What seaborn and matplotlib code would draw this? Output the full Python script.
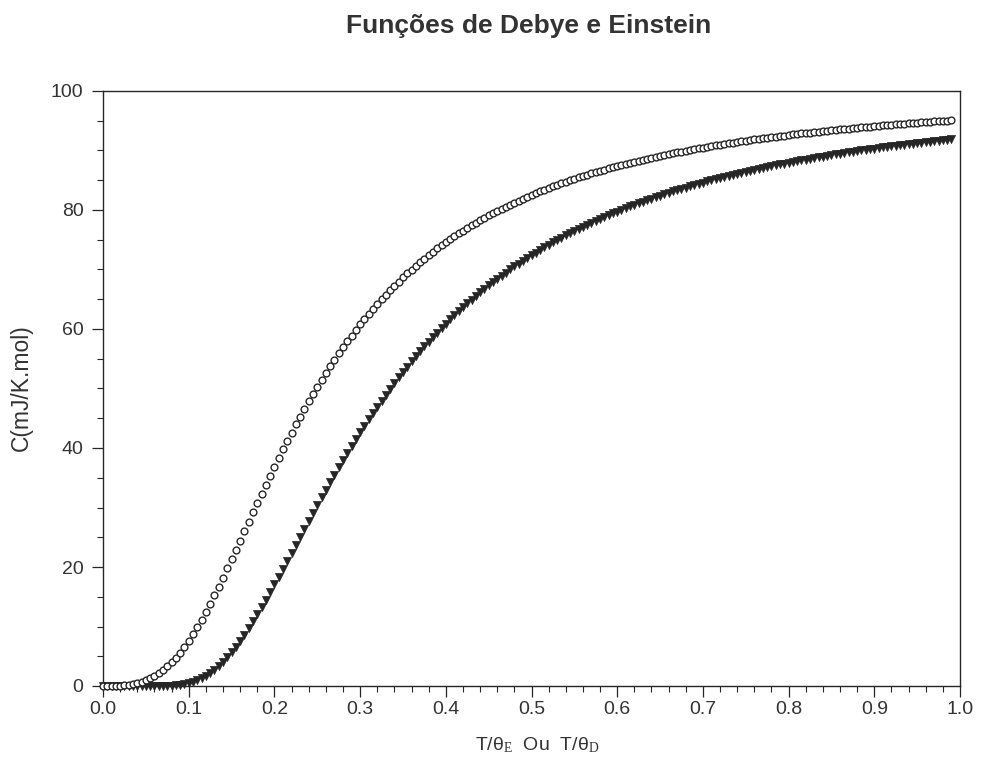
import matplotlib
matplotlib.use("Agg")
import matplotlib.pyplot as plt
from matplotlib.ticker import MultipleLocator
import seaborn as sns
import pandas as pd

# Reduced temperature T/theta (sample grid)
t_grid = [
    0.000, 0.005, 0.010, 0.015, 0.020, 0.025, 0.030, 0.035, 0.040, 0.045,
    0.050, 0.055, 0.060, 0.065, 0.070, 0.075, 0.080, 0.085, 0.090, 0.095,
    0.100, 0.105, 0.110, 0.115, 0.120, 0.125, 0.130, 0.135, 0.140, 0.145,
    0.150, 0.155, 0.160, 0.165, 0.170, 0.175, 0.180, 0.185, 0.190, 0.195,
    0.200, 0.205, 0.210, 0.215, 0.220, 0.225, 0.230, 0.235, 0.240, 0.245,
    0.250, 0.255, 0.260, 0.265, 0.270, 0.275, 0.280, 0.285, 0.290, 0.295,
    0.300, 0.305, 0.310, 0.315, 0.320, 0.325, 0.330, 0.335, 0.340, 0.345,
    0.350, 0.355, 0.360, 0.365, 0.370, 0.375, 0.380, 0.385, 0.390, 0.395,
    0.400, 0.405, 0.410, 0.415, 0.420, 0.425, 0.430, 0.435, 0.440, 0.445,
    0.450, 0.455, 0.460, 0.465, 0.470, 0.475, 0.480, 0.485, 0.490, 0.495,
    0.500, 0.505, 0.510, 0.515, 0.520, 0.525, 0.530, 0.535, 0.540, 0.545,
    0.550, 0.555, 0.560, 0.565, 0.570, 0.575, 0.580, 0.585, 0.590, 0.595,
    0.600, 0.605, 0.610, 0.615, 0.620, 0.625, 0.630, 0.635, 0.640, 0.645,
    0.650, 0.655, 0.660, 0.665, 0.670, 0.675, 0.680, 0.685, 0.690, 0.695,
    0.700, 0.705, 0.710, 0.715, 0.720, 0.725, 0.730, 0.735, 0.740, 0.745,
    0.750, 0.755, 0.760, 0.765, 0.770, 0.775, 0.780, 0.785, 0.790, 0.795,
    0.800, 0.805, 0.810, 0.815, 0.820, 0.825, 0.830, 0.835, 0.840, 0.845,
    0.850, 0.855, 0.860, 0.865, 0.870, 0.875, 0.880, 0.885, 0.890, 0.895,
    0.900, 0.905, 0.910, 0.915, 0.920, 0.925, 0.930, 0.935, 0.940, 0.945,
    0.950, 0.955, 0.960, 0.965, 0.970, 0.975, 0.980, 0.985, 0.990,
]

# Open circles (Debye curve)
debye = [
    0.00, 0.00, 0.01, 0.03, 0.06, 0.12, 0.21, 0.33, 0.50, 0.71,
    0.97, 1.30, 1.68, 2.14, 2.67, 3.28, 3.97, 4.75, 5.61, 6.55,
    7.58, 8.69, 9.87, 11.13, 12.44, 13.82, 15.24, 16.71, 18.21, 19.75,
    21.30, 22.87, 24.45, 26.03, 27.62, 29.19, 30.76, 32.31, 33.85, 35.37,
    36.87, 38.34, 39.78, 41.20, 42.59, 43.95, 45.28, 46.58, 47.86, 49.10,
    50.31, 51.48, 52.63, 53.75, 54.84, 55.90, 56.93, 57.93, 58.90, 59.85,
    60.77, 61.66, 62.54, 63.38, 64.20, 65.00, 65.77, 66.52, 67.26, 67.97,
    68.66, 69.33, 69.98, 70.61, 71.22, 71.83, 72.41, 72.98, 73.53, 74.07,
    74.59, 75.09, 75.58, 76.06, 76.53, 76.99, 77.43, 77.86, 78.28, 78.68,
    79.08, 79.47, 79.85, 80.21, 80.57, 80.92, 81.26, 81.59, 81.92, 82.23,
    82.54, 82.84, 83.13, 83.42, 83.70, 83.97, 84.24, 84.50, 84.75, 85.00,
    85.24, 85.48, 85.71, 85.93, 86.15, 86.37, 86.58, 86.79, 86.99, 87.19,
    87.38, 87.57, 87.75, 87.93, 88.11, 88.28, 88.45, 88.62, 88.78, 88.94,
    89.10, 89.25, 89.40, 89.55, 89.69, 89.83, 89.97, 90.11, 90.24, 90.37,
    90.50, 90.62, 90.74, 90.86, 90.98, 91.10, 91.21, 91.32, 91.43, 91.54,
    91.65, 91.75, 91.85, 91.95, 92.05, 92.15, 92.24, 92.33, 92.43, 92.52,
    92.60, 92.69, 92.78, 92.86, 92.94, 93.02, 93.10, 93.18, 93.26, 93.33,
    93.41, 93.48, 93.55, 93.62, 93.69, 93.76, 93.83, 93.90, 93.96, 94.03,
    94.09, 94.15, 94.21, 94.27, 94.33, 94.39, 94.45, 94.51, 94.56, 94.62,
    94.67, 94.73, 94.78, 94.83, 94.88, 94.93, 94.98, 95.03, 95.08,
]

# Filled triangles (Einstein curve)
einstein = [
    0.00, 0.00, 0.00, 0.00, 0.00, 0.00, 0.00, 0.00, 0.00, 0.00,
    0.00, 0.00, 0.00, 0.00, 0.01, 0.03, 0.06, 0.11, 0.18, 0.30,
    0.45, 0.66, 0.93, 1.27, 1.67, 2.15, 2.70, 3.34, 4.04, 4.82,
    5.67, 6.59, 7.57, 8.61, 9.71, 10.85, 12.02, 13.25, 14.50, 15.78,
    17.07, 18.39, 19.72, 21.06, 22.41, 23.76, 25.09, 26.45, 27.77, 29.10,
    30.41, 31.71, 32.99, 34.27, 35.52, 36.75, 37.97, 39.17, 40.34, 41.49,
    42.62, 43.74, 44.83, 45.89, 46.94, 47.97, 48.97, 49.95, 50.91, 51.85,
    52.77, 53.67, 54.55, 55.41, 56.24, 57.06, 57.86, 58.65, 59.41, 60.16,
    60.89, 61.60, 62.30, 62.98, 63.64, 64.29, 64.92, 65.54, 66.15, 66.73,
    67.32, 67.88, 68.43, 68.97, 69.49, 70.01, 70.51, 71.00, 71.48, 71.95,
    72.41, 72.85, 73.29, 73.72, 74.14, 74.55, 74.95, 75.34, 75.73, 76.10,
    76.47, 76.83, 77.18, 77.53, 77.86, 78.19, 78.52, 78.83, 79.14, 79.45,
    79.74, 80.04, 80.32, 80.60, 80.87, 81.14, 81.41, 81.66, 81.92, 82.16,
    82.41, 82.65, 82.88, 83.11, 83.33, 83.55, 83.77, 83.98, 84.19, 84.40,
    84.60, 84.79, 84.99, 85.18, 85.36, 85.55, 85.73, 85.90, 86.08, 86.25,
    86.41, 86.58, 86.74, 86.90, 87.06, 87.21, 87.36, 87.51, 87.65, 87.80,
    87.94, 88.07, 88.21, 88.34, 88.48, 88.61, 88.73, 88.86, 88.98, 89.10,
    89.22, 89.34, 89.46, 89.57, 89.68, 89.79, 89.90, 90.01, 90.11, 90.22,
    90.32, 90.42, 90.52, 90.61, 90.71, 90.80, 90.90, 90.99, 91.08, 91.17,
    91.26, 91.34, 91.43, 91.51, 91.59, 91.68, 91.76, 91.84, 91.91,
]

title_text = "Funções de Debye e Einstein"
y_label = "C(mJ/K.mol)"
x_label = r"T/θ$_\mathrm{E}$  Ou  T/θ$_\mathrm{D}$"
x_ticks = [0.0, 0.1, 0.2, 0.3, 0.4, 0.5, 0.6, 0.7, 0.8, 0.9, 1.0]
x_ticklabels = ["0.0", "0.1", "0.2", "0.3", "0.4", "0.5", "0.6", "0.7", "0.8", "0.9", "1.0"]
y_ticks = [0, 20, 40, 60, 80, 100]
y_ticklabels = ["0", "20", "40", "60", "80", "100"]

n = min(len(t_grid), len(debye), len(einstein))
df_d = pd.DataFrame({"t": t_grid[:n], "C": debye[:n]})
df_e = pd.DataFrame({"t": t_grid[:n], "C": einstein[:n]})

sns.set_theme(style="ticks")
plt.rcParams["font.family"] = ["Liberation Sans", "DejaVu Sans"]
plt.rcParams["mathtext.fontset"] = "custom"
plt.rcParams["mathtext.rm"] = "Liberation Serif"
plt.rcParams["mathtext.it"] = "Liberation Serif:italic"

ink = "#262626"

fig = plt.figure(figsize=(9.82, 7.71), dpi=100)
fig.patch.set_facecolor("white")
ax = fig.add_axes([103 / 982, 1 - 686 / 771, (960 - 103) / 982, (686 - 91) / 771])
ax.set_facecolor("white")

sns.scatterplot(data=df_e, x="t", y="C", marker="v", s=34, color=ink,
                edgecolor=ink, linewidth=0.5, ax=ax, zorder=3, clip_on=False)
sns.scatterplot(data=df_d, x="t", y="C", marker="o", s=24, facecolor="white",
                edgecolor=ink, linewidth=1.0, ax=ax, zorder=4, clip_on=False)

ax.set_xlim(0, 1.0)
ax.set_ylim(0, 100)
ax.set_xticks(x_ticks)
ax.set_xticklabels(x_ticklabels)
ax.set_yticks(y_ticks)
ax.set_yticklabels(y_ticklabels)
ax.xaxis.set_minor_locator(MultipleLocator(0.02))
ax.yaxis.set_minor_locator(MultipleLocator(5))
ax.tick_params(axis="both", which="major", direction="out", length=8, width=0.9,
               color=ink, labelsize=14, labelcolor="#333333")
ax.tick_params(axis="y", which="major", pad=6)
ax.tick_params(axis="x", which="major", pad=3)
ax.tick_params(axis="both", which="minor", direction="out", length=4, width=0.8, color=ink)
ax.tick_params(top=False, right=False, which="both")
for sp in ax.spines.values():
    sp.set_visible(True)
    sp.set_color(ink)
    sp.set_linewidth(1.0)

ax.set_xlabel("")
ax.set_ylabel("")
fig.text(529 / 982, 1 - 26 / 771, title_text, ha="center", va="center",
         fontsize=19, fontweight="bold", color="#333333")
fig.text(21 / 982, 1 - 388 / 771, y_label, ha="center", va="center",
         rotation=90, fontsize=16.5, color="#333333")
fig.text(537 / 982, 1 - 745 / 771, x_label, ha="center", va="center",
         fontsize=14, color="#333333")

fig.savefig("out.png", dpi=100, facecolor="white")
